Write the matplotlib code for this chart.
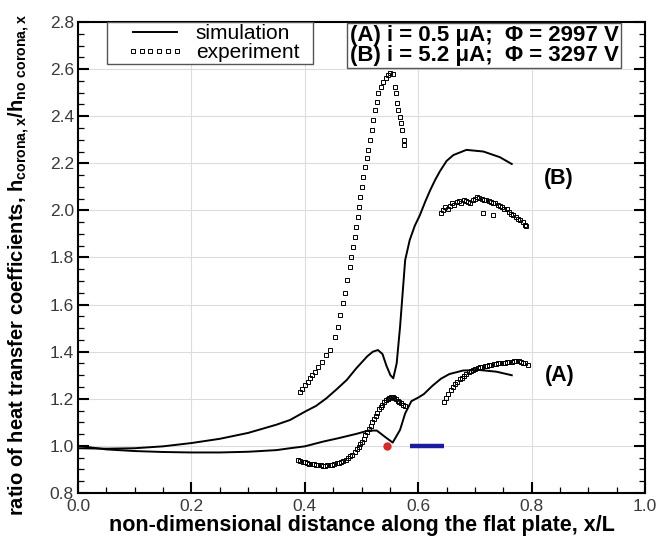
import matplotlib
matplotlib.use("Agg")
import matplotlib.pyplot as plt
from matplotlib.patches import Rectangle
from matplotlib.ticker import MultipleLocator

plt.rcParams["font.family"] = ["Liberation Sans", "DejaVu Sans"]

# simulation curves
sim_a_x = [0.0, 0.05, 0.1, 0.15, 0.2, 0.25, 0.3, 0.35, 0.374, 0.40, 0.432, 0.46,
           0.491, 0.512, 0.527, 0.541, 0.555, 0.568, 0.577, 0.588, 0.60, 0.61,
           0.625, 0.64, 0.655, 0.679, 0.709, 0.738, 0.765]
sim_a_y = [1.0, 0.985, 0.978, 0.974, 0.972, 0.972, 0.975, 0.982, 0.990, 0.998, 1.018,
           1.033, 1.051, 1.065, 1.065, 1.039, 1.014, 1.068, 1.138, 1.190, 1.205, 1.220,
           1.255, 1.285, 1.305, 1.320, 1.322, 1.315, 1.300]

sim_b_x = [0.0, 0.05, 0.1, 0.15, 0.2, 0.25, 0.3, 0.35, 0.374, 0.40, 0.42, 0.438,
           0.456, 0.474, 0.491, 0.51, 0.52, 0.529, 0.537, 0.544, 0.551, 0.556, 0.562,
           0.568, 0.577, 0.585, 0.594, 0.603, 0.612, 0.621, 0.63, 0.638, 0.650, 0.662,
           0.685, 0.715, 0.744, 0.765]
sim_b_y = [0.99, 0.988, 0.99, 0.998, 1.012, 1.03, 1.055, 1.09, 1.11, 1.145, 1.17, 1.202,
           1.24, 1.28, 1.33, 1.38, 1.40, 1.407, 1.39, 1.34, 1.30, 1.287, 1.35,
           1.506, 1.789, 1.874, 1.935, 1.98, 2.035, 2.085, 2.13, 2.165, 2.21, 2.235,
           2.257, 2.250, 2.226, 2.197]

# experiment (B), first stretch
exp_b1_x = [0.391, 0.395, 0.400, 0.405, 0.409, 0.413, 0.418, 0.424, 0.430, 0.437,
            0.444, 0.453, 0.458, 0.462, 0.467, 0.471, 0.475, 0.479, 0.482, 0.485,
            0.488, 0.491, 0.494, 0.496, 0.498, 0.500, 0.503, 0.506, 0.509, 0.512,
            0.515, 0.518, 0.521, 0.524, 0.527, 0.529, 0.534, 0.538, 0.543, 0.547,
            0.551, 0.555, 0.559, 0.561, 0.563, 0.565, 0.568, 0.570, 0.572, 0.575,
            0.575]
exp_b1_y = [1.230, 1.240, 1.259, 1.270, 1.287, 1.300, 1.315, 1.335, 1.357, 1.386,
            1.407, 1.464, 1.506, 1.556, 1.606, 1.648, 1.704, 1.761, 1.803, 1.846,
            1.888, 1.931, 1.973, 2.016, 2.058, 2.101, 2.143, 2.186, 2.221, 2.257,
            2.299, 2.342, 2.384, 2.426, 2.462, 2.497, 2.525, 2.547, 2.561, 2.575,
            2.582, 2.580, 2.525, 2.497, 2.455, 2.426, 2.398, 2.370, 2.342, 2.300,
            2.277]

# experiment (B), second stretch
exp_b2_x = [0.640, 0.644, 0.648, 0.652, 0.656, 0.660, 0.664, 0.668, 0.672, 0.676,
            0.680, 0.684, 0.688, 0.692, 0.696, 0.700, 0.704, 0.708, 0.712, 0.716,
            0.720, 0.724, 0.728, 0.732, 0.736, 0.740, 0.744, 0.748, 0.752, 0.756,
            0.760, 0.764, 0.768, 0.772, 0.776, 0.780, 0.784, 0.788, 0.791, 0.715,
            0.732]
exp_b2_y = [1.990, 2.000, 2.015, 2.005, 2.020, 2.030, 2.025, 2.037, 2.040, 2.032,
            2.044, 2.040, 2.035, 2.030, 2.045, 2.050, 2.058, 2.052, 2.050, 2.045,
            2.044, 2.040, 2.035, 2.030, 2.032, 2.025, 2.020, 2.015, 2.008, 2.005,
            1.995, 1.985, 1.980, 1.970, 1.965, 1.958, 1.950, 1.940, 1.932, 1.990,
            1.980]

# experiment (A), first stretch
exp_a1_x = [0.388, 0.392, 0.396, 0.400, 0.404, 0.408, 0.412, 0.416, 0.420, 0.424,
            0.428, 0.432, 0.436, 0.440, 0.444, 0.448, 0.452, 0.456, 0.460, 0.464,
            0.468, 0.472, 0.476, 0.480, 0.484, 0.488, 0.492, 0.495, 0.498, 0.501,
            0.504, 0.507, 0.510, 0.513, 0.516, 0.519, 0.522, 0.525, 0.528, 0.531,
            0.534, 0.537, 0.540, 0.543, 0.546, 0.549, 0.552, 0.555, 0.558, 0.561,
            0.564, 0.567, 0.570, 0.573, 0.576]
exp_a1_y = [0.940, 0.935, 0.933, 0.930, 0.927, 0.925, 0.924, 0.921, 0.920, 0.918,
            0.917, 0.915, 0.916, 0.917, 0.919, 0.920, 0.923, 0.926, 0.929, 0.933,
            0.937, 0.942, 0.947, 0.955, 0.963, 0.972, 0.985, 0.995, 1.008, 1.018,
            1.030, 1.045, 1.058, 1.072, 1.085, 1.100, 1.112, 1.128, 1.140, 1.155,
            1.165, 1.175, 1.185, 1.193, 1.198, 1.203, 1.208, 1.207, 1.204, 1.198,
            1.192, 1.186, 1.180, 1.174, 1.168]

# experiment (A), second stretch
exp_a2_x = [0.645, 0.649, 0.653, 0.657, 0.661, 0.665, 0.669, 0.673, 0.677, 0.681,
            0.685, 0.689, 0.693, 0.697, 0.701, 0.705, 0.709, 0.713, 0.717, 0.721,
            0.725, 0.729, 0.733, 0.737, 0.741, 0.745, 0.749, 0.753, 0.757, 0.761,
            0.765, 0.769, 0.773, 0.777, 0.781, 0.785, 0.789, 0.794]
exp_a2_y = [1.188, 1.205, 1.222, 1.238, 1.250, 1.262, 1.272, 1.282, 1.290, 1.298,
            1.305, 1.312, 1.318, 1.322, 1.326, 1.330, 1.333, 1.336, 1.338, 1.340,
            1.342, 1.344, 1.346, 1.348, 1.350, 1.351, 1.352, 1.354, 1.356, 1.357,
            1.358, 1.360, 1.362, 1.360, 1.357, 1.353, 1.350, 1.344]

marker_x = [0.545]
marker_y = [1.0]
bar_x = [0.585, 0.646]
bar_y = [1.0, 1.0]

fig = plt.figure(figsize=(6.67, 5.37), dpi=100)
ax = fig.add_axes([0.117, 0.082, 0.850, 0.877])

ax.plot(sim_a_x, sim_a_y, color="black", lw=1.4, label="simulation")
ax.plot(sim_b_x, sim_b_y, color="black", lw=1.4)
mk = dict(ls="none", marker="s", ms=3.4, mfc="none", mec="black", mew=0.7)
ax.plot(exp_b1_x, exp_b1_y, label="experiment", **mk)
ax.plot(exp_b2_x, exp_b2_y, **mk)
ax.plot(exp_a1_x, exp_a1_y, **mk)
ax.plot(exp_a2_x, exp_a2_y, **mk)
ax.plot(marker_x, marker_y, "o", color="#d42a2a", ms=5, zorder=5)
ax.plot(bar_x, bar_y, color="#1c1ca0", lw=3.2, solid_capstyle="butt")

ax.set_xlim(0, 1.0)
ax.set_ylim(0.8, 2.8)
ax.xaxis.set_major_locator(MultipleLocator(0.2))
ax.xaxis.set_minor_locator(MultipleLocator(0.05))
ax.yaxis.set_major_locator(MultipleLocator(0.2))
ax.yaxis.set_minor_locator(MultipleLocator(0.05))
ax.xaxis.set_major_formatter(lambda v, p: f"{v:.1f}")
ax.yaxis.set_major_formatter(lambda v, p: f"{v:.1f}")
ax.tick_params(which="both", direction="in", left=True, right=True, top=False,
               labelsize=12.5, labelcolor="#3a3a3a")
ax.tick_params(which="major", length=8, width=1.5)
ax.tick_params(which="minor", length=4.5, width=0.9)
ax.tick_params(axis="x", pad=4)
ax.tick_params(axis="y", pad=3)
ax.grid(True, which="major", color="#dcdcdc", lw=0.8)
ax.set_axisbelow(True)
for s in ax.spines.values():
    s.set_linewidth(1.5)

ax.set_xlabel("non-dimensional distance along the flat plate, x/L",
              fontsize=15.5, fontweight="bold")
ax.set_ylabel(r"ratio of heat transfer coefficients, h$_{\mathregular{corona,x}}$"
              r"/h$_{\mathregular{no\ corona,x}}$",
              fontsize=14.5, fontweight="bold")
ax.xaxis.set_label_coords(0.5, -0.047)
ax.yaxis.set_label_coords(-0.082, 0.485)

# legend: frame drawn by hand so its size follows the reference
ax.add_patch(Rectangle((0.0506, 0.9108), 0.3635, 0.0892, transform=ax.transAxes,
                       fc="white", ec="#555555", lw=1.0, zorder=4))
leg = ax.legend(loc="center left", bbox_to_anchor=(0.0857, 0.9554), borderaxespad=0,
                fontsize=15, numpoints=6, handlelength=2.7, handletextpad=0.62,
                labelspacing=0.0, borderpad=0.0, frameon=False)
leg.set_zorder(5)

ax.text(0.716, 2.70, "(A) i = 0.5 \u03bcA;  \u03a6 = 2997 V\n(B) i = 5.2 \u03bcA;  \u03a6 = 3297 V",
        ha="center", va="center", fontsize=16, fontweight="bold", linespacing=0.9,
        bbox=dict(boxstyle="square,pad=0.12", fc="white", ec="#555555", lw=1.0))
ax.text(0.848, 2.135, "(B)", ha="center", va="center", fontsize=15.5, fontweight="bold")
ax.text(0.85, 1.30, "(A)", ha="center", va="center", fontsize=15.5, fontweight="bold")

fig.savefig("out.png", dpi=100)
